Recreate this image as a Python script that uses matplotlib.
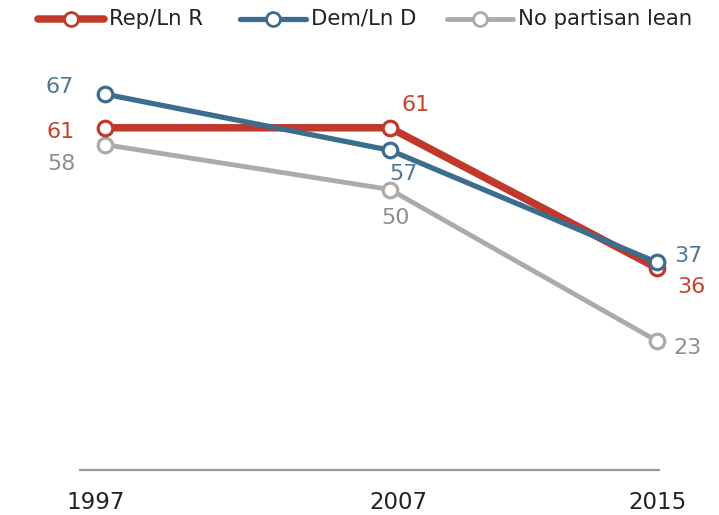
import matplotlib
matplotlib.use("Agg")
import matplotlib.pyplot as plt
from matplotlib.lines import Line2D

years = ["1997", "2007", "2015"]
series_names = ["Rep/Ln R", "Dem/Ln D", "No partisan lean"]
rep = [61, 61, 36]
dem = [67, 57, 37]
nolean = [58, 50, 23]

plt.rcParams['font.family'] = ['DejaVu Sans']

W, H = 719, 515
xpos = [0, 285, 552]

fig = plt.figure(figsize=(W/100, H/100), dpi=100)
ax = fig.add_axes([80/W, 45/H, 579/W, 420/H])

red = "#C0392B"
blue = "#3D6D8E"
gray = "#ABABAB"
red_t = "#C8412F"
blue_t = "#4F7896"
gray_t = "#8E8E8E"

styles = {
    "gray": dict(color=gray, lw=3.5, mec=gray),
    "red": dict(color=red, lw=5.4, mec=red),
    "blue": dict(color=blue, lw=3.8, mec=blue),
}
ax.plot(xpos, nolean, marker='o', ms=10.5, mfc='white', mew=2.3, zorder=2, clip_on=False, **styles["gray"])
ax.plot(xpos, rep, marker='o', ms=10.5, mfc='white', mew=2.3, zorder=3, clip_on=False, **styles["red"])
ax.plot(xpos, dem, marker='o', ms=10.5, mfc='white', mew=2.3, zorder=4, clip_on=False, **styles["blue"])

fs = 16
def lab(i, vals, col, off):
    ax.annotate(str(vals[i]), (xpos[i], vals[i]), xytext=off, textcoords='offset points',
                ha='center', va='baseline', color=col, fontsize=fs, annotation_clip=False)

lab(0, dem, blue_t, (-32.4, 0.7))
lab(0, rep, red_t, (-31.7, -7.2))
lab(0, nolean, gray_t, (-31, -18))
lab(1, rep, red_t, (18.7, 12.2))
lab(1, dem, blue_t, (10, -21.6))
lab(1, nolean, gray_t, (4.3, -24.5))
lab(2, dem, blue_t, (22.3, 0))
lab(2, rep, red_t, (24.5, -18))
lab(2, nolean, gray_t, (22.3, -9.4))

ax.set_xlim(-25, 554)
ax.set_ylim(0, 420/5.61)
for s in ["top", "right", "left"]:
    ax.spines[s].set_visible(False)
ax.spines["bottom"].set_color("#9A9A9A")
ax.spines["bottom"].set_linewidth(1.6)
ax.set_yticks([])
ax.set_xticks([])
label_x = [-9, 293, 552]
for lx, y in zip(label_x, years):
    ax.text(lx, -39/5.61, y, ha='center', va='baseline', fontsize=16.5, color="#222222", clip_on=False)

# legend drawn in figure pixel coordinates
leg_x = [38, 240, 447]
leg_y = 1 - 19/H
leg_styles = [styles["red"], styles["blue"], styles["gray"]]
for x0, name, st in zip(leg_x, series_names, leg_styles):
    fig.add_artist(Line2D([x0/W, (x0+66)/W], [leg_y, leg_y], transform=fig.transFigure,
                          color=st["color"], lw=st["lw"], solid_capstyle='round'))
    fig.add_artist(Line2D([(x0+33)/W], [leg_y], transform=fig.transFigure, marker='o', ms=10,
                          mfc='white', mec=st["mec"], mew=2.0, lw=0))
    fig.text((x0+71)/W, leg_y, name, ha='left', va='center', fontsize=15.3, color="#222222")

fig.savefig("out.png", dpi=100)
